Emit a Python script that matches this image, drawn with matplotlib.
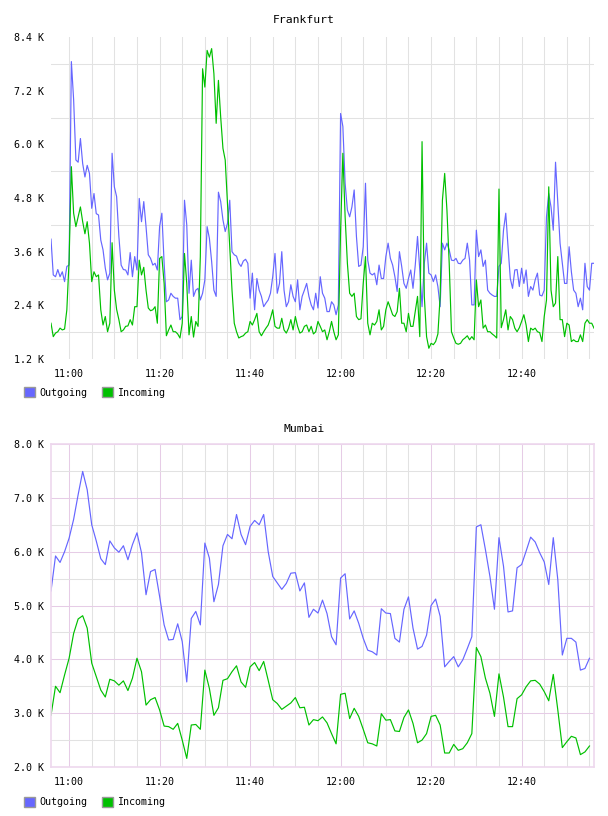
import numpy as np
import matplotlib.pyplot as plt
from matplotlib.patches import Patch
from matplotlib.ticker import MultipleLocator, FixedLocator

# Frankfurt traffic, 30 s samples from 10:56, values in K
fra_out = [3.88, 3.08, 3.04, 3.2, 3.04, 3.15, 2.93, 3.27, 3.3, 7.85,
           7.0, 5.65, 5.6, 6.13, 5.57, 5.27, 5.53, 5.35, 4.57, 4.9,
           4.45, 4.42, 3.86, 3.64, 3.23, 2.97, 3.12, 5.8, 5.05, 4.83,
           3.94, 3.3, 3.2, 3.19, 3.08, 3.58, 3.04, 3.49, 3.19, 4.79,
           4.27, 4.72, 4.16, 3.53, 3.45, 3.3, 3.34, 3.19, 4.16, 4.46,
           3.34, 2.48, 2.52, 2.67, 2.6, 2.56, 2.56, 2.08, 2.15, 4.75,
           4.2, 2.67, 3.41, 2.6, 2.74, 2.78, 2.52, 2.67, 2.97, 4.16,
           3.9, 3.38, 2.74, 2.6, 4.93, 4.72, 4.31, 4.05, 4.23, 4.75,
           3.6, 3.53, 3.5, 3.34, 3.27, 3.39, 3.43, 3.34, 2.56, 3.12,
           2.3, 3.0, 2.74, 2.6, 2.37, 2.45, 2.52, 2.67, 3.04, 3.56,
           2.67, 2.89, 3.6, 2.74, 2.37, 2.48, 2.86, 2.6, 2.48, 2.97,
           2.3, 2.6, 2.74, 2.89, 2.6, 2.41, 2.3, 2.67, 2.34, 3.04,
           2.67, 2.56, 2.26, 2.26, 2.48, 2.41, 2.19, 2.41, 6.69, 6.4,
           5.13, 4.53, 4.38, 4.6, 4.98, 3.94, 3.27, 3.3, 3.71, 5.13,
           3.41, 3.12, 3.08, 3.12, 2.86, 3.3, 3.0, 3.0, 3.49, 3.79,
           3.45, 3.3, 3.04, 2.71, 3.6, 3.27, 2.89, 2.78, 3.0, 3.19,
           2.78, 3.3, 3.94, 3.19, 2.37, 3.34, 3.79, 3.12, 3.08, 2.93,
           3.08, 2.82, 2.37, 3.79, 3.64, 3.79, 3.64, 3.41, 3.4, 3.45,
           3.34, 3.33, 3.41, 3.45, 3.79, 3.41, 2.41, 2.41, 4.08, 3.49,
           3.64, 3.27, 3.41, 2.74, 2.67, 2.63, 2.6, 2.6, 3.27, 3.34,
           4.08, 4.46, 3.71, 3.0, 2.78, 3.19, 3.2, 2.82, 3.23, 2.89,
           3.19, 2.6, 2.82, 2.74, 2.97, 3.12, 2.63, 2.61, 2.74, 4.38,
           4.9, 4.6, 4.08, 5.6, 4.7, 3.79, 3.34, 2.89, 2.89, 3.71,
           3.15, 2.74, 2.67, 2.37, 2.56, 2.3, 3.34, 2.82, 2.74, 3.34, 3.34]
fra_in = [2.0, 1.7, 1.78, 1.81, 1.89, 1.85, 1.87, 2.3, 3.41, 5.5,
          4.46, 4.16, 4.38, 4.6, 4.27, 4.0, 4.27, 3.79, 2.93, 3.15,
          3.04, 3.08, 2.3, 1.96, 2.15, 1.81, 2.0, 3.8, 2.74, 2.31,
          2.08, 1.81, 1.85, 1.93, 1.94, 2.08, 1.96, 2.37, 2.37, 3.41,
          3.08, 3.25, 2.74, 2.34, 2.28, 2.3, 2.37, 2.0, 3.45, 3.49,
          2.89, 1.72, 1.85, 1.96, 1.81, 1.81, 1.76, 1.67, 2.0, 3.56,
          2.89, 1.74, 2.15, 1.69, 2.04, 1.93, 3.49, 7.69, 7.28, 8.1,
          7.95, 8.14, 7.58, 6.47, 7.43, 6.61, 5.91, 5.65, 4.68, 3.71,
          2.74, 2.0, 1.81, 1.67, 1.7, 1.72, 1.78, 1.81, 2.04, 1.96,
          2.08, 2.22, 1.81, 1.72, 1.81, 1.89, 1.96, 2.11, 2.3, 1.93,
          1.89, 1.89, 2.11, 1.85, 1.78, 1.89, 2.08, 1.85, 2.15, 1.93,
          1.78, 1.81, 1.93, 1.96, 1.81, 1.93, 1.76, 1.81, 2.04, 1.93,
          1.81, 1.85, 1.63, 1.81, 2.04, 1.81, 1.63, 1.74, 4.08, 5.8,
          4.38, 3.34, 2.67, 2.6, 2.67, 2.15, 2.08, 2.1, 2.89, 3.49,
          2.0, 1.74, 2.0, 1.96, 2.04, 2.3, 1.85, 1.93, 2.3, 2.48,
          2.34, 2.19, 2.15, 2.26, 2.78, 2.0, 2.0, 1.81, 2.22, 1.93,
          1.93, 2.26, 2.6, 1.7, 6.06, 2.6, 1.7, 1.44, 1.55, 1.52,
          1.59, 1.76, 2.6, 4.75, 5.35, 4.53, 3.34, 1.81, 1.67, 1.55,
          1.53, 1.55, 1.63, 1.67, 1.72, 1.63, 1.7, 1.63, 2.97, 2.37,
          2.52, 1.89, 1.96, 1.81, 1.81, 1.76, 1.72, 1.67, 5.0, 1.9,
          2.08, 2.3, 1.85, 2.15, 2.08, 1.89, 1.81, 1.9, 2.04, 2.19,
          1.96, 1.59, 1.89, 1.85, 1.89, 1.81, 1.79, 1.59, 2.15, 2.52,
          5.05, 2.74, 2.37, 2.45, 3.49, 2.08, 2.08, 1.7, 2.0, 1.96,
          1.59, 1.63, 1.59, 1.59, 1.74, 1.59, 2.0, 2.08, 2.0, 2.0, 1.89]

# Mumbai traffic, 1 min samples from 10:56, values in K
mum_out = [5.27, 5.92, 5.8, 6.0, 6.25, 6.6, 7.06, 7.49, 7.15, 6.5,
           6.2, 5.87, 5.76, 6.2, 6.07, 5.99, 6.11, 5.85, 6.13, 6.35,
           5.98, 5.2, 5.63, 5.67, 5.17, 4.64, 4.36, 4.37, 4.66, 4.33,
           3.58, 4.76, 4.89, 4.64, 6.16, 5.88, 5.07, 5.39, 6.11, 6.32,
           6.24, 6.69, 6.32, 6.13, 6.47, 6.58, 6.5, 6.69, 6.0, 5.54,
           5.42, 5.3, 5.41, 5.6, 5.61, 5.27, 5.42, 4.78, 4.93, 4.86,
           5.1, 4.85, 4.42, 4.27, 5.51, 5.59, 4.75, 4.9, 4.67, 4.39,
           4.17, 4.14, 4.08, 4.94, 4.86, 4.85, 4.39, 4.32, 4.93, 5.16,
           4.58, 4.19, 4.24, 4.45, 5.0, 5.12, 4.8, 3.86, 3.96, 4.05,
           3.86, 3.99, 4.2, 4.42, 6.46, 6.5, 6.04, 5.54, 4.93, 6.26,
           5.73, 4.88, 4.9, 5.7, 5.76, 6.01, 6.27, 6.18, 5.98, 5.81,
           5.39, 6.26, 5.48, 4.08, 4.39, 4.39, 4.32, 3.8, 3.83, 4.02]
mum_in = [2.96, 3.5, 3.38, 3.71, 4.02, 4.48, 4.75, 4.81, 4.58, 3.93,
          3.68, 3.43, 3.3, 3.63, 3.6, 3.52, 3.6, 3.42, 3.65, 4.02,
          3.77, 3.15, 3.25, 3.29, 3.06, 2.76, 2.75, 2.7, 2.81, 2.5,
          2.16, 2.78, 2.79, 2.7, 3.8, 3.46, 2.96, 3.1, 3.61, 3.64,
          3.77, 3.88, 3.58, 3.48, 3.86, 3.94, 3.79, 3.96, 3.61, 3.25,
          3.18, 3.07, 3.13, 3.19, 3.29, 3.1, 3.11, 2.78, 2.88, 2.86,
          2.93, 2.82, 2.62, 2.43, 3.35, 3.37, 2.9, 3.09, 2.94, 2.7,
          2.45, 2.43, 2.39, 2.99, 2.87, 2.88, 2.67, 2.66, 2.92, 3.06,
          2.81, 2.45, 2.5, 2.62, 2.94, 2.96, 2.78, 2.26, 2.26, 2.42,
          2.31, 2.34, 2.45, 2.62, 4.22, 4.05, 3.65, 3.37, 2.94, 3.73,
          3.3, 2.75, 2.75, 3.27, 3.34, 3.49, 3.6, 3.61, 3.54, 3.4,
          3.23, 3.72, 3.06, 2.36, 2.47, 2.57, 2.54, 2.23, 2.28, 2.39]

# x axis in minutes after 11:00
fra_t = -4 + 0.5 * np.arange(len(fra_out))
mum_t = -4 + 1.0 * np.arange(len(mum_out))

time_ticks = [0, 20, 40, 60, 80, 100]
time_labels = ["11:00", "11:20", "11:40", "12:00", "12:20", "12:40"]

OUT_C = "#6666ff"
IN_C = "#00c000"
GRID = "#e2e2e2"
MAJOR = "#e6cce6"

plt.rcParams["font.family"] = "DejaVu Sans Mono"
plt.rcParams["font.size"] = 7.2

fig = plt.figure(figsize=(6.08, 8.16), dpi=100)
W, H = 608, 816


def make_axes(top, bottom):
    return fig.add_axes([51 / W, 1 - bottom / H, 543 / W, (bottom - top) / H])


def common(ax):
    ax.set_xlim(-4, 116)
    ax.set_xticks(time_ticks, time_labels)
    ax.xaxis.set_minor_locator(MultipleLocator(5))
    ax.tick_params(which="both", length=0)
    ax.tick_params(axis="y", pad=5)
    ax.tick_params(axis="x", pad=7.5)
    ax.set_axisbelow(True)


def legend(ypix):
    handles = [Patch(facecolor=OUT_C, edgecolor="#999999", lw=1, label="Outgoing"),
               Patch(facecolor=IN_C, edgecolor="#999999", lw=1, label="Incoming")]
    fig.legend(handles=handles, loc="center left", bbox_to_anchor=(24 / W, 1 - ypix / H),
               ncol=2, frameon=False, borderpad=0, borderaxespad=0,
               handlelength=1.1, handleheight=1.1, handletextpad=0.4,
               columnspacing=1.5, fontsize=7.2)


# --- Frankfurt ---
ax1 = make_axes(37, 359)
common(ax1)
ax1.set_ylim(1.2, 8.4)
yt = [1.2, 2.4, 3.6, 4.8, 6.0, 7.2, 8.4]
ax1.set_yticks(yt, [f"{v:.1f} K" for v in yt])
ax1.yaxis.set_minor_locator(FixedLocator([1.8, 3.0, 4.2, 5.4, 6.6, 7.8]))
ax1.grid(True, which="minor", axis="y", color=GRID, lw=0.75)
ax1.grid(True, which="both", axis="x", color=GRID, lw=0.75)
for s in ax1.spines.values():
    s.set_visible(False)
ax1.plot(fra_t, fra_out, color=OUT_C, lw=0.85)
ax1.plot(fra_t, fra_in, color=IN_C, lw=0.85)
fig.text(0.5, 1 - 20 / H, "Frankfurt", ha="center", va="center", fontsize=8.2)
legend(392.5)

# --- Mumbai ---
ax2 = make_axes(444, 767)
common(ax2)
ax2.set_ylim(2.0, 8.0)
yt2 = [2.0, 3.0, 4.0, 5.0, 6.0, 7.0, 8.0]
ax2.set_yticks(yt2, [f"{v:.1f} K" for v in yt2])
ax2.yaxis.set_minor_locator(MultipleLocator(0.5))
ax2.grid(True, which="minor", color=GRID, lw=0.75)
ax2.grid(True, which="major", color=MAJOR, lw=0.75)
for s in ax2.spines.values():
    s.set_color("#eed8ee")
    s.set_linewidth(1.2)
ax2.plot(mum_t, mum_out, color=OUT_C, lw=0.85)
ax2.plot(mum_t, mum_in, color=IN_C, lw=0.85)
fig.text(0.5, 1 - 429 / H, "Mumbai", ha="center", va="center", fontsize=8.2)
legend(802)

fig.savefig("out.png", dpi=100)
